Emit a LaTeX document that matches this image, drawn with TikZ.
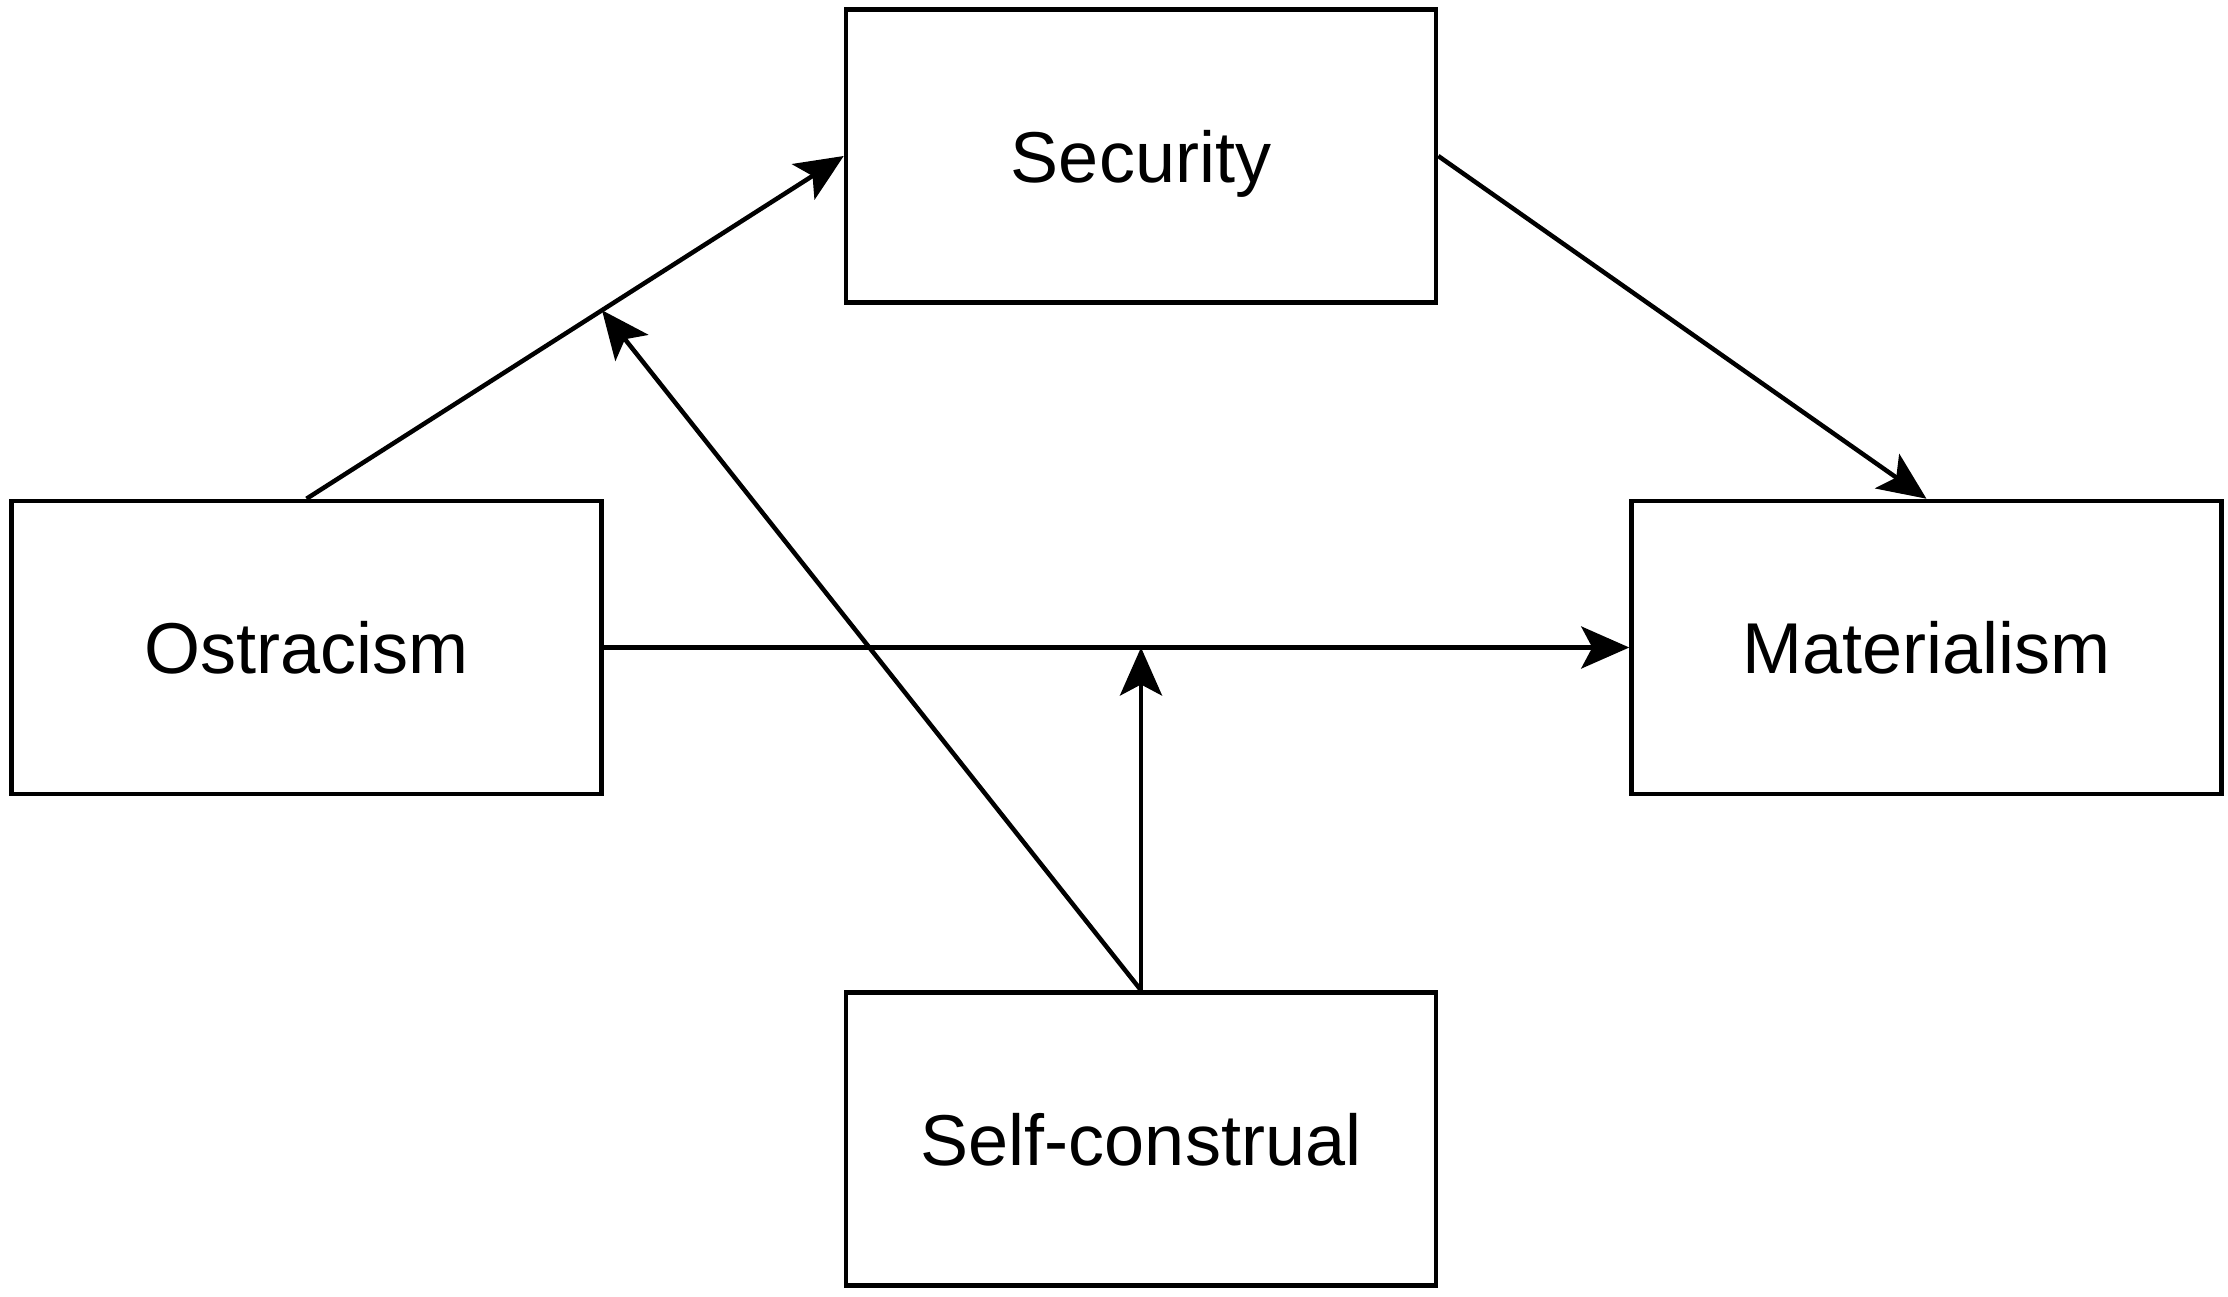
\documentclass[tikz,border=0pt]{standalone}
\usepackage{fontspec}
\setmainfont{Liberation Sans}
\usetikzlibrary{arrows.meta,calc}
\begin{document}
\begin{tikzpicture}[x=1pt,y=-1pt,
  box/.style={draw,line width=4.5pt,rectangle,minimum width=590pt,minimum height=293pt,inner sep=0pt,text depth=0pt,font=\fontsize{72}{86}\selectfont},
  conn/.style={line width=4.5pt,-{Stealth[length=48pt,width=42pt,inset=11pt]}}]
\useasboundingbox (0,0) rectangle (2228,1297);
\node[box] (sec) at (1141,156) {Security};
\node[box] (ost) at (306.5,647.5) {Ostracism};
\node[box] (mat) at (1926.5,647.5) {Materialism};
\node[box] (self) at (1141,1139) {Self-construal};
\coordinate (m1) at ($(ost.north)!0.55!(sec.west)$);
\coordinate (m2) at (self.north |- ost.east);
\draw[conn] (ost.north) -- (sec.west);
\draw[conn] (sec.east) -- (mat.north);
\draw[conn] (ost.east) -- (mat.west);
\draw[conn] (self.north) -- (m2);
\draw[conn] (self.north) -- (m1);
\end{tikzpicture}
\end{document}
